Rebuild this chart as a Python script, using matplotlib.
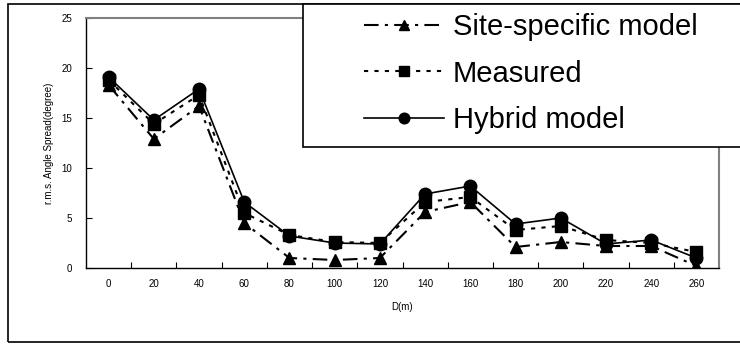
import matplotlib.pyplot as plt
from matplotlib.patches import Rectangle
import numpy as np

# rms angle spread vs distance
distance = [0, 20, 40, 60, 80, 100, 120, 140, 160, 180, 200, 220, 240, 260]
site_specific = [18.3, 12.9, 16.2, 4.5, 1.0, 0.8, 1.0, 5.6, 6.6, 2.1, 2.6, 2.2, 2.2, 0.2]
measured = [18.8, 14.4, 17.3, 5.5, 3.3, 2.6, 2.5, 6.6, 7.1, 3.8, 4.2, 2.8, 2.5, 1.6]
hybrid = [19.1, 14.8, 17.9, 6.6, 3.2, 2.5, 2.4, 7.4, 8.2, 4.4, 5.0, 2.4, 2.8, 1.0]
y_ticks = [0, 5, 10, 15, 20, 25]

plt.rcParams['font.family'] = ['Liberation Sans', 'DejaVu Sans']

W, H = 740, 345
fig = plt.figure(figsize=(W / 100, H / 100), dpi=100)
ax = fig.add_axes([86 / W, 1 - 268 / H, 633 / W, 250 / H])

x = np.arange(len(distance))
ax.plot(x, site_specific, color='black', lw=1.5, ls=(0, (7, 3, 1.5, 3)),
        marker='^', ms=9, label='Site-specific model')
ax.plot(x, measured, color='black', lw=1.5, ls=(0, (2, 3)),
        marker='s', ms=9, label='Measured')
ax.plot(x, hybrid, color='black', lw=1.2, ls='-',
        marker='o', ms=9, label='Hybrid model')

ax.set_xlim(-0.5, len(distance) - 0.5)
ax.set_ylim(0, 25)
ax.set_yticks(y_ticks)
ax.set_xticks(x)
ax.set_xticklabels([str(d) for d in distance])
ax.set_xticks(np.arange(0.5, len(distance) - 0.5, 1), minor=True)
ax.tick_params(axis='x', which='major', length=0, labelsize=7, pad=8)
ax.tick_params(axis='x', which='minor', direction='in', length=4, width=0.8)
ax.tick_params(axis='y', direction='in', length=4, width=0.8, labelsize=7, pad=10)

for side in ['top', 'right']:
    ax.spines[side].set_color('#808080')
    ax.spines[side].set_linewidth(1.5)
for side in ['left', 'bottom']:
    ax.spines[side].set_linewidth(1.0)

ax.set_xlabel('D(m)', fontsize=7, labelpad=9)
ax.set_ylabel('r.m.s. Angle Spread(degree)', fontsize=7, labelpad=5)

# outer chart border
fig.patches.append(Rectangle((8 / W, 3 / H), 1.0, 338 / H,
                             transform=fig.transFigure, fill=False,
                             edgecolor='black', lw=1.2))

# legend box, running off the right edge
fig.patches.append(Rectangle((303 / W, 1 - 147 / H), 1.0, 143 / H,
                             transform=fig.transFigure, facecolor='white',
                             edgecolor='black', lw=1.2, zorder=4))

leg = fig.legend(loc='upper left', bbox_to_anchor=(364 / W, 1 - 13 / H),
                 frameon=False, prop={'size': 21},
                 handlelength=2.75, handletextpad=0.3, labelspacing=0.64,
                 borderpad=0, borderaxespad=0, markerscale=0.85)
leg.set_zorder(5)

fig.savefig('out.png', dpi=100)
